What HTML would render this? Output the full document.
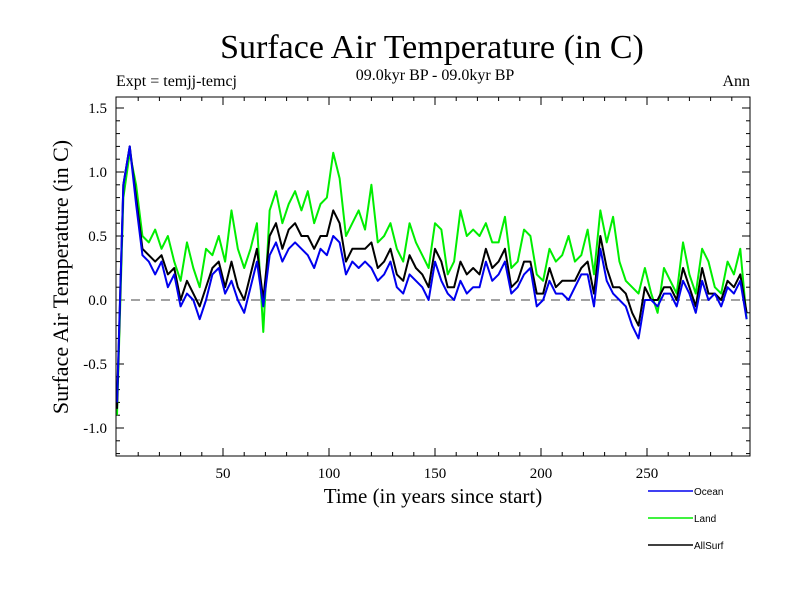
<!DOCTYPE html>
<html><head><meta charset="utf-8"><style>
body{margin:0;background:#fff}
svg{display:block;font-family:"Liberation Serif",serif}
</style></head><body>
<svg id="c" width="800" height="600">
<text x="432" y="58" font-size="34" text-anchor="middle">Surface Air Temperature (in C)</text>
<text x="116" y="86" font-size="16">Expt = temjj-temcj</text>
<text x="435" y="80" font-size="16" text-anchor="middle">09.0kyr BP - 09.0kyr BP</text>
<text x="750" y="86" font-size="16" text-anchor="end">Ann</text>
<text x="433" y="503" font-size="21" text-anchor="middle">Time (in years since start)</text>
<text transform="translate(68,277) rotate(-90)" font-size="22" text-anchor="middle">Surface Air Temperature (in C)</text>
<g id="ax"></g><g id="series"></g>
<rect x="116" y="97" width="634" height="359" fill="none" stroke="#000" stroke-width="1"/>
<g id="legend" font-family="Liberation Sans, sans-serif" font-size="10"></g>
</svg>
<script>
const years=[];for(let i=0;i<100;i++)years.push(i*3);
const ocean=[-0.8,0.9,1.2,0.75,0.35,0.3,0.2,0.3,0.1,0.2,
-0.05,0.05,0.0,-0.15,0.0,0.2,0.25,0.05,0.15,0.0,
-0.1,0.1,0.3,-0.05,0.35,0.45,0.3,0.4,0.45,0.4,
0.35,0.25,0.4,0.35,0.5,0.45,0.2,0.3,0.25,0.3,
0.25,0.15,0.2,0.3,0.1,0.05,0.2,0.15,0.1,0.0,
0.3,0.15,0.05,0.0,0.15,0.05,0.1,0.1,0.3,0.15,
0.2,0.3,0.05,0.1,0.2,0.25,-0.05,0.0,0.15,0.05,
0.05,0.0,0.1,0.2,0.2,-0.05,0.4,0.15,0.05,0.0,
-0.05,-0.2,-0.3,0.0,0.0,-0.05,0.05,0.05,-0.05,0.15,
0.05,-0.1,0.15,0.0,0.05,-0.05,0.1,0.05,0.15,-0.15];
const land=[-0.9,0.8,1.15,0.9,0.5,0.45,0.55,0.4,0.5,0.3,
0.15,0.45,0.25,0.1,0.4,0.35,0.5,0.3,0.7,0.4,
0.25,0.4,0.6,-0.25,0.7,0.85,0.6,0.75,0.85,0.7,
0.85,0.6,0.75,0.8,1.15,0.95,0.5,0.6,0.7,0.55,
0.9,0.45,0.5,0.6,0.4,0.3,0.6,0.45,0.35,0.25,
0.6,0.55,0.2,0.3,0.7,0.5,0.55,0.5,0.6,0.45,
0.45,0.65,0.25,0.3,0.55,0.5,0.2,0.15,0.4,0.3,
0.35,0.5,0.3,0.35,0.55,0.2,0.7,0.45,0.65,0.3,
0.15,0.1,0.05,0.25,0.05,-0.1,0.25,0.15,0.05,0.45,
0.2,0.05,0.4,0.3,0.1,0.05,0.3,0.2,0.4,-0.15];
const allsurf=[-0.85,0.9,1.2,0.8,0.4,0.35,0.3,0.35,0.2,0.25,
0.0,0.15,0.05,-0.05,0.1,0.25,0.3,0.1,0.3,0.1,
0.0,0.2,0.4,0.0,0.5,0.6,0.4,0.55,0.6,0.5,
0.5,0.4,0.5,0.5,0.7,0.6,0.3,0.4,0.4,0.4,
0.45,0.25,0.3,0.4,0.2,0.15,0.35,0.25,0.2,0.1,
0.4,0.3,0.1,0.1,0.3,0.2,0.25,0.2,0.4,0.25,
0.3,0.4,0.1,0.15,0.3,0.3,0.05,0.05,0.25,0.1,
0.15,0.15,0.15,0.25,0.3,0.05,0.5,0.25,0.1,0.1,
0.05,-0.1,-0.2,0.1,0.0,0.0,0.1,0.1,0.0,0.25,
0.1,-0.05,0.25,0.05,0.05,0.0,0.15,0.1,0.2,-0.1];
const yTicks=[-1.0,-0.5,0.0,0.5,1.0,1.5];
const yTickLabels=["-1.0","-0.5","0.0","0.5","1.0","1.5"];
const xTicks=[50,100,150,200,250];
const seriesNames=["Ocean","Land","AllSurf"];
const NS="http://www.w3.org/2000/svg";
const X=v=>117+2.12*v, Y=v=>300-128*v;
function mk(t,a,p){const e=document.createElementNS(NS,t);for(const k in a)e.setAttribute(k,a[k]);p.appendChild(e);return e;}
const ax=document.getElementById('ax');
for(let v=-1.2;v<=1.6;v+=0.1){const y=Y(v);if(y<97||y>456)continue;
 const major=yTicks.some(t=>Math.abs(t-v)<1e-6);const L=major?8:4;
 const t1=mk('line',{x1:116,x2:116+L,y1:y,y2:y,stroke:'#000'},ax);
 
 
 mk('line',{x1:750-L,x2:750,y1:y,y2:y,stroke:'#000'},ax);}
yTicks.forEach((v,i)=>{const t=mk('text',{x:107,y:Y(v)+5,'font-size':15,'text-anchor':'end'},ax);t.textContent=yTickLabels[i];
 
 });
for(let v=10;v<300;v+=10){const x=X(v);const major=v%50==0;const L=major?8:4;
 const t1=mk('line',{x1:x,x2:x,y1:456,y2:456-L,stroke:'#000'},ax);
 
 
 mk('line',{x1:x,x2:x,y1:97,y2:97+L,stroke:'#000'},ax);}
xTicks.forEach(v=>{const t=mk('text',{x:X(v),y:478,'font-size':15,'text-anchor':'middle'},ax);t.textContent=v;
 
 });
const zl=mk('line',{x1:116,x2:750,y1:Y(0),y2:Y(0),stroke:'#444','stroke-dasharray':'9,6'},ax);


const sg=document.getElementById('series');
const data=[[land,'#00ee00','land-line'],[ocean,'#0000ee','ocean-line'],[allsurf,'#000','allsurf-line']];
[data[0],data[2],data[1]].forEach(([arr,col,name])=>{
 const p=mk('polyline',{points:arr.map((v,i)=>X(years[i])+','+Y(v)).join(' '),fill:'none',stroke:col,'stroke-width':2,'stroke-linejoin':'round'},sg);
 
 });
const lg=document.getElementById('legend');
const lcols=['#0000ee','#00ee00','#000'];
seriesNames.forEach((n,i)=>{const y=491+27*i;
 const l=mk('line',{x1:648,x2:693,y1:y,y2:y,stroke:lcols[i],'stroke-width':1.5},lg);
 
 
 const t=mk('text',{x:694,y:y+4},lg);t.textContent=n;
 
 });
</script>
</body></html>
